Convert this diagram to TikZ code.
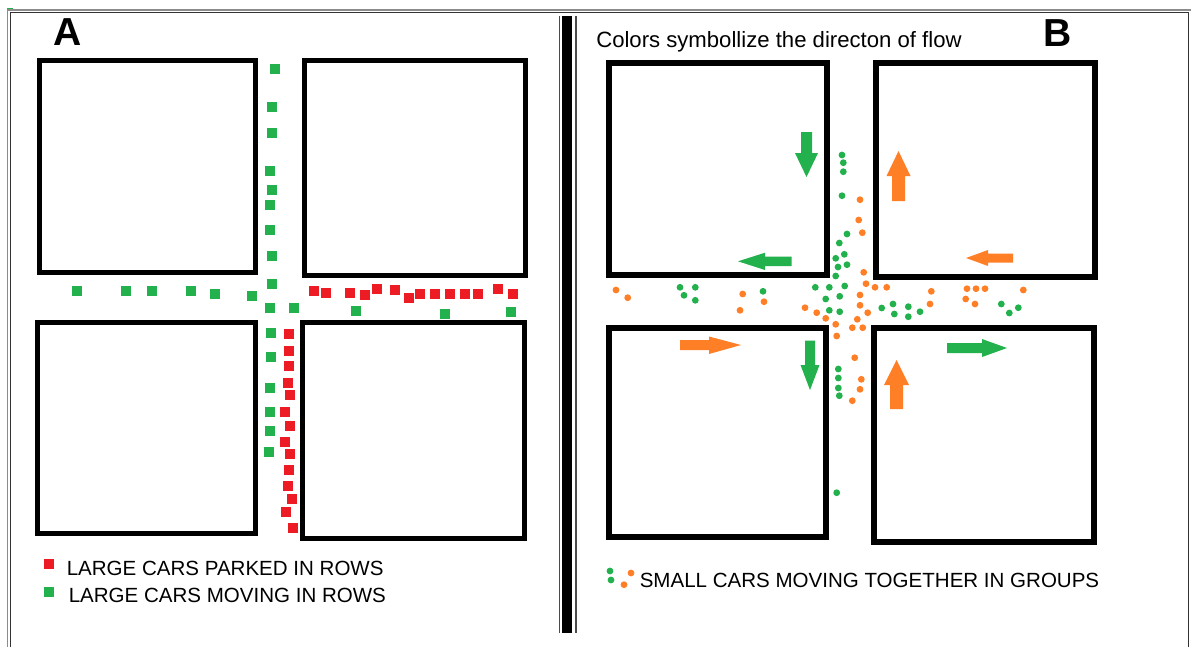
\documentclass[tikz,border=0pt]{standalone}
\usepackage{fontspec}
\setmainfont{Liberation Sans}
\definecolor{pgreen}{HTML}{22B14C}
\definecolor{pred}{HTML}{ED1C24}
\definecolor{porange}{HTML}{FF7F27}
\begin{document}
\begin{tikzpicture}[x=0.75pt,y=-0.75pt,
  boxA/.style={draw=black,line width=3.75pt},
  boxB/.style={draw=black,line width=4.5pt},
  gsq/.style={fill=pgreen},
  rsq/.style={fill=pred},
  gdot/.style={fill=pgreen},
  odot/.style={fill=porange},
  garrow/.style={fill=pgreen},
  oarrow/.style={fill=porange},
  lbl/.style={font=\fontsize{15.4}{18}\selectfont,inner sep=0pt,anchor=base west},
  ttl/.style={font=\fontsize{16.6}{19}\selectfont,inner sep=0pt,anchor=base west},
  big/.style={font=\bfseries\fontsize{29.3}{32}\selectfont,inner sep=0pt,anchor=base west}]
\fill[white] (0,0) rectangle (1191,647);
\useasboundingbox (0,0) rectangle (1191,647);
% outer frame
\fill[pgreen] (7,8) rectangle (13,10);
\draw[black!45,line width=0.9pt] (7.5,647) -- (7.5,10) -- (1191,10);
\draw[black!80,line width=1pt] (10.5,647) -- (10.5,12.5) -- (1188.5,12.5) -- (1188.5,647);
% separator
\fill[black] (562,16) rectangle (572,633);
\draw[black!70,line width=0.9pt] (559.5,16) -- (559.5,633);
\draw[black!70,line width=0.9pt] (576,16) -- (576,633);
% titles
\node[big] (labA) at (53,45.5) {A};
\node[big] (labB) at (1043,46) {B};
\node[ttl] (title) at (596,47) {Colors symbollize the directon of flow};
% panel A blocks
\draw[boxA] (39.5,60.5) rectangle (255.5,272.5);
\draw[boxA] (304.5,60.5) rectangle (525.5,275.5);
\draw[boxA] (37.5,322.5) rectangle (255.5,533.5);
\draw[boxA] (302.5,322.5) rectangle (524.5,538.5);
% green squares
\foreach \x/\y in {275/69,272/107,272/133,270/171,272/190,270/205,270/230,272/256,272/284,252/296,
  77/291,126/291,152/291,191/291,215/294,270/308,294/308,356/310.5,445/314,511/312,
  271/333,271/357,270/388,270/412,270/431,269/452}
  \fill[gsq] ({\x-5},{\y-5}) rectangle ++(10,10);
% red squares
\foreach \x/\y in {314/291,326/292.6,350/292.6,365/294.7,377/288.6,395/290,409/297.7,420/293.6,435/293.6,450/293.6,465/293.6,478/293.6,498/288.6,513/293.6,
  289/334,289/351,289/366,288/383,290/395,285/412,290/426,285/442,290/454,289/470,288/486,292/499,286/512,293/528}
  \fill[rsq] ({\x-5},{\y-5}) rectangle ++(10,10);
% legend A
\fill[rsq] (44,559) rectangle ++(10,10);
\fill[gsq] (44,587) rectangle ++(10,10);
\node[lbl] (legA1) at (66.5,575) {LARGE CARS PARKED IN ROWS};
\node[lbl] (legA2) at (68.5,602) {LARGE CARS MOVING IN ROWS};
% panel B blocks
\draw[boxB] (609,63) rectangle (827,275);
\draw[boxB] (875.7,63) rectangle (1095,277);
\draw[boxB] (609,328) rectangle (825.7,537);
\draw[boxB] (873.7,328) rectangle (1094,542);
% arrows
\fill[garrow] (801,132) -- (812,132) -- (812,153) -- (818,153) -- (806.5,177) -- (795,153) -- (801,153) -- cycle;
\fill[oarrow] (892,201) -- (905,201) -- (905,176) -- (910.5,176) -- (898.5,151) -- (886.5,176) -- (892,176) -- cycle;
\fill[garrow] (791.5,256.5) -- (791.5,266) -- (765,266) -- (765,270) -- (738,261.3) -- (765,252.7) -- (765,256.5) -- cycle;
\fill[oarrow] (1013,253.5) -- (1013,262.5) -- (988,262.5) -- (988,266) -- (966,258) -- (988,250) -- (988,253.5) -- cycle;
\fill[oarrow] (680,340) -- (709,340) -- (709,336.5) -- (741,345) -- (709,354) -- (709,350) -- (680,350) -- cycle;
\fill[garrow] (805,340.5) -- (815,340.5) -- (815,365) -- (819.5,365) -- (810,390) -- (800.5,365) -- (805,365) -- cycle;
\fill[oarrow] (890,409) -- (903,409) -- (903,385) -- (909,385) -- (896.5,360) -- (884,385) -- (890,385) -- cycle;
\fill[garrow] (947,343) -- (982,343) -- (982,339) -- (1007,348) -- (982,357) -- (982,353) -- (947,353) -- cycle;
% green dots
\foreach \x/\y in {842/155,843.3/162.7,843.3/171.7,842/195.7,847/234,839.3/243,844.3/254.3,835.7/258.3,838/267,847/264.7,835.7/276,
  815.3/287.3,829.3/287.3,844.7/286,763/291.3,825.7/299,839.7/296.3,829.3/310.3,839.7/311.7,881.7/308,893/304,894.3/314,
  908.3/306.7,908.3/316.7,920/311.7,680/287.3,695.3/287.3,684/295.3,695.3/300.3,1001.3/304,1009.3/313,1018.3/307.7,
  838.3/369,838.3/378,838.3/388,839.3/395.7,836.7/492.7}
  \fill[gdot] (\x,\y) circle[radius=3.4];
% orange dots
\foreach \x/\y in {860/199.7,858.7/220,862.3/232.7,863.7/272.3,866/283.7,875/287.3,886.7/287.3,742.7/294,764/301.7,740/310.3,
  805/307.7,816.7/312.7,825.7/318.3,835.7/324.3,860/295,860/305.3,867.7/312.7,857.3/319.3,852.3/327.7,862.7/327.7,
  931.3/291.3,930/304,616/290,627.7/297.7,967/288.7,976/288.7,985/288.7,965.7/299,975/304,1023.3/290,
  836.7/336,854.7/357.7,861.3/379.3,860/389.3,852.3/400.7}
  \fill[odot] (\x,\y) circle[radius=3.4];
% legend B
\fill[gdot] (610,571) circle[radius=3.4];
\fill[gdot] (611,580) circle[radius=3.4];
\fill[odot] (631,573) circle[radius=3.4];
\fill[odot] (624,584.7) circle[radius=3.4];
\node[lbl] (legB) at (639.5,587.5) {SMALL CARS MOVING TOGETHER IN GROUPS};
\end{tikzpicture}
\end{document}
